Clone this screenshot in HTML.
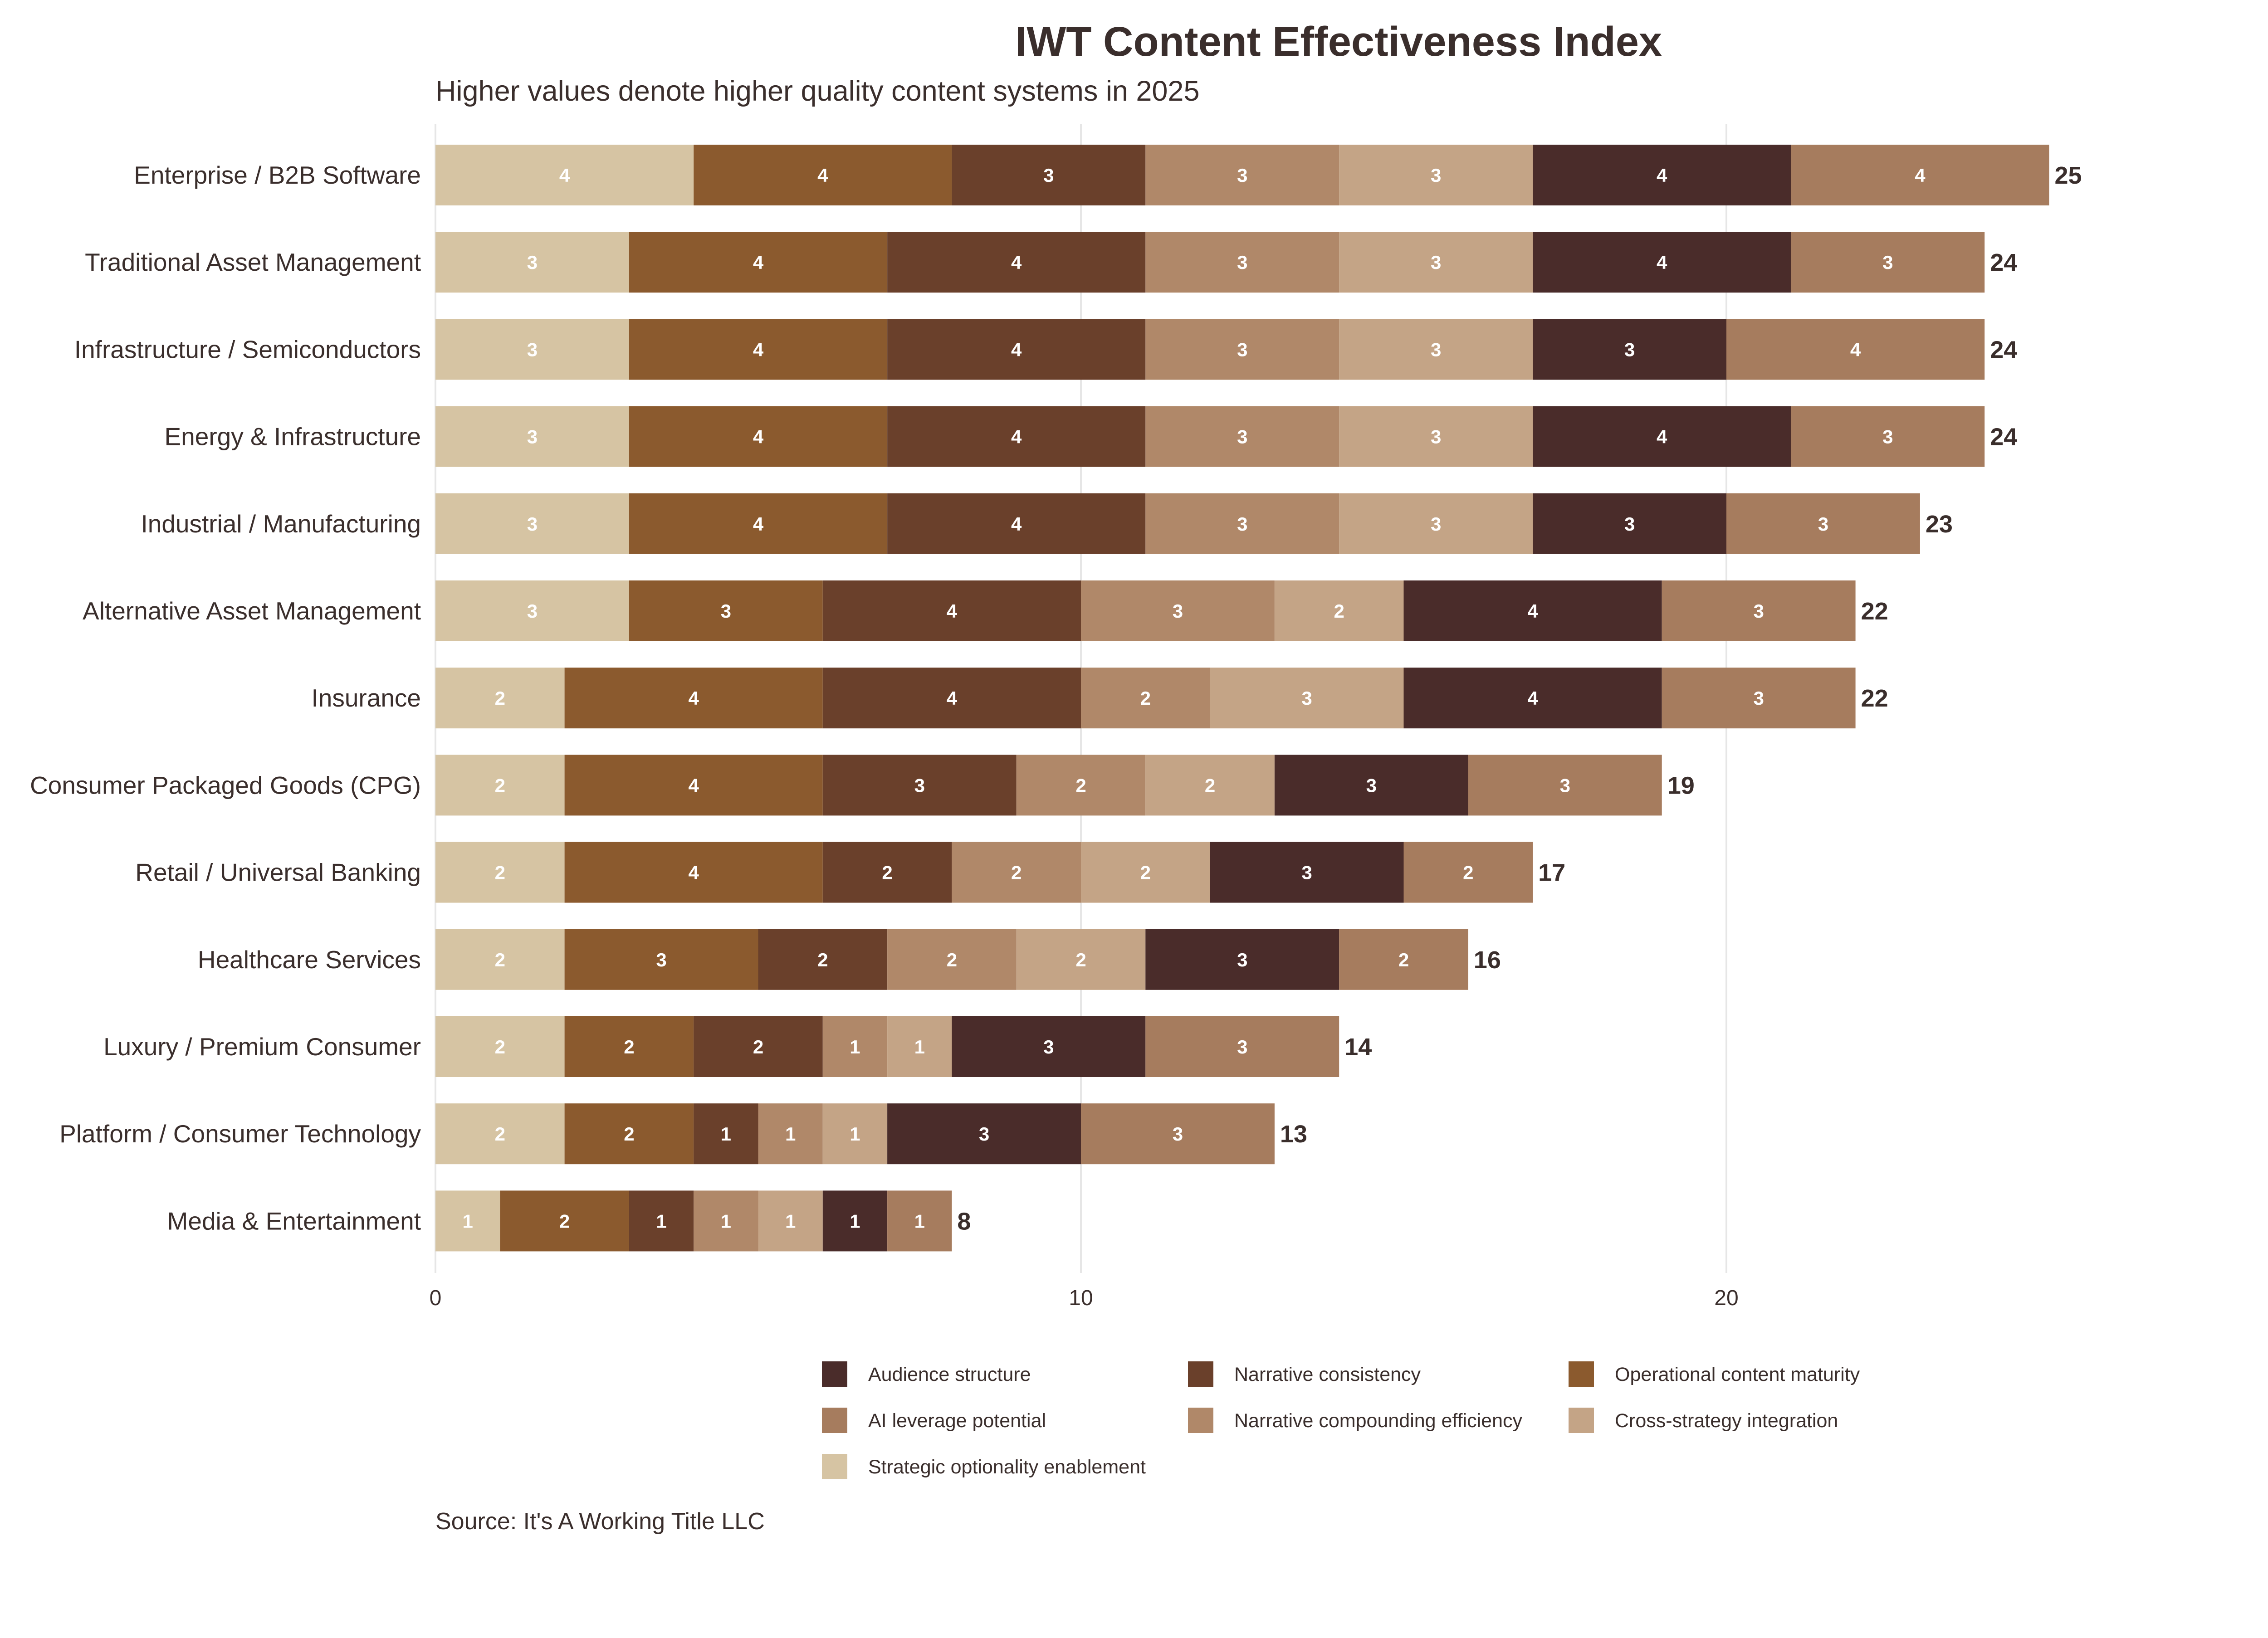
<!DOCTYPE html>
<html><head><meta charset="utf-8">
<style>
html,body{margin:0;padding:0;background:#fff;}
svg{display:block;font-family:"Liberation Sans",Arial,sans-serif;}
</style></head>
<body>
<svg id="chart" width="5100" height="3612" viewBox="0 0 5100 3612" xmlns="http://www.w3.org/2000/svg">
<rect width="5100" height="3612" fill="#fff"/>
<text x="2951" y="123" text-anchor="middle" font-size="92" font-weight="bold" fill="#3a2e2c">IWT Content Effectiveness Index</text>
<text x="960" y="222" font-size="63" fill="#3a2e2c">Higher values denote higher quality content systems in 2025</text>
<g id="grid"></g>
<g id="bars"></g>
<g id="labels"></g>
<g id="legend"></g>
<text x="960" y="3372" font-size="52" fill="#3a2e2c">Source: It's A Working Title LLC</text>
</svg>
<script>
const categories = ["Enterprise / B2B Software","Traditional Asset Management","Infrastructure / Semiconductors","Energy & Infrastructure","Industrial / Manufacturing","Alternative Asset Management","Insurance","Consumer Packaged Goods (CPG)","Retail / Universal Banking","Healthcare Services","Luxury / Premium Consumer","Platform / Consumer Technology","Media & Entertainment"];
const seriesNames = ["Strategic optionality enablement","Operational content maturity","Narrative consistency","Narrative compounding efficiency","Cross-strategy integration","Audience structure","AI leverage potential"];
const strategic   = [4,3,3,3,3,3,2,2,2,2,2,2,1];
const operational = [4,4,4,4,4,3,4,4,4,3,2,2,2];
const narrCons    = [3,4,4,4,4,4,4,3,2,2,2,1,1];
const narrComp    = [3,3,3,3,3,3,2,2,2,2,1,1,1];
const crossStrat  = [3,3,3,3,3,2,3,2,2,2,1,1,1];
const audience    = [4,4,3,4,3,4,4,3,3,3,3,3,1];
const aiLeverage  = [4,3,4,3,3,3,3,3,2,2,3,3,1];
const xTicks = [0,10,20];

const colors = ["#D6C4A3","#8B5A2E","#6A402B","#B08869","#C4A486","#4A2C2A","#A67C5E"];
const series = [strategic,operational,narrCons,narrComp,crossStrat,audience,aiLeverage];
const NS="http://www.w3.org/2000/svg";
const x0=960, unit=142.3, y0=386, step=192.2, bh=134;
const xs = v => x0 + v*unit;
const ys = i => y0 + i*step;
function mk(tag, attrs, parent){const e=document.createElementNS(NS,tag);for(const k in attrs)e.setAttribute(k,attrs[k]);parent.appendChild(e);return e;}
const grid=document.getElementById('grid'), bars=document.getElementById('bars'), labels=document.getElementById('labels'), legend=document.getElementById('legend');

xTicks.forEach(t=>{
  const l=mk('line',{x1:xs(t),x2:xs(t),y1:274,y2:2807,stroke:'#e6e6e6','stroke-width':4},grid);
  
  
  const tx=mk('text',{x:xs(t),y:2878,'text-anchor':'middle','font-size':48,fill:'#3a2e2c'},grid);
  tx.textContent=t;
  
  
});

categories.forEach((c,i)=>{
  const cy=ys(i);
  const lab=mk('text',{x:928,y:cy+19,'text-anchor':'end','font-size':55,fill:'#3a2e2c'},labels);
  lab.textContent=c;
  
  
  let acc=0;
  series.forEach((s,k)=>{
    const v=s[i];
    const r=mk('rect',{x:xs(acc),y:cy-bh/2,width:v*unit,height:bh,fill:colors[k]},bars);
    
    
    const t=mk('text',{x:xs(acc+v/2),y:cy+15,'text-anchor':'middle','font-size':42,'font-weight':'bold',fill:'#fff'},labels);
    t.textContent=v;
    
    
    acc+=v;
  });
  const tot=mk('text',{x:xs(acc)+12,y:cy+19,'font-size':54,'font-weight':'bold',fill:'#3a2e2c'},labels);
  tot.textContent=acc;
  
  
});

const legendOrder=[5,2,1,6,3,4,0];
const colX=[1812,2619,3458], rowY=[3002,3104,3206];
legendOrder.forEach((k,j)=>{
  const cx=colX[j%3], ry=rowY[Math.floor(j/3)];
  const g=mk('g',{},legend);
  
  
  mk('rect',{x:cx,y:ry,width:56,height:56,fill:colors[k]},g);
  const t=mk('text',{x:cx+102,y:ry+43,'font-size':43,fill:'#3a2e2c'},g);
  t.textContent=seriesNames[k];
});
</script>
</body></html>
